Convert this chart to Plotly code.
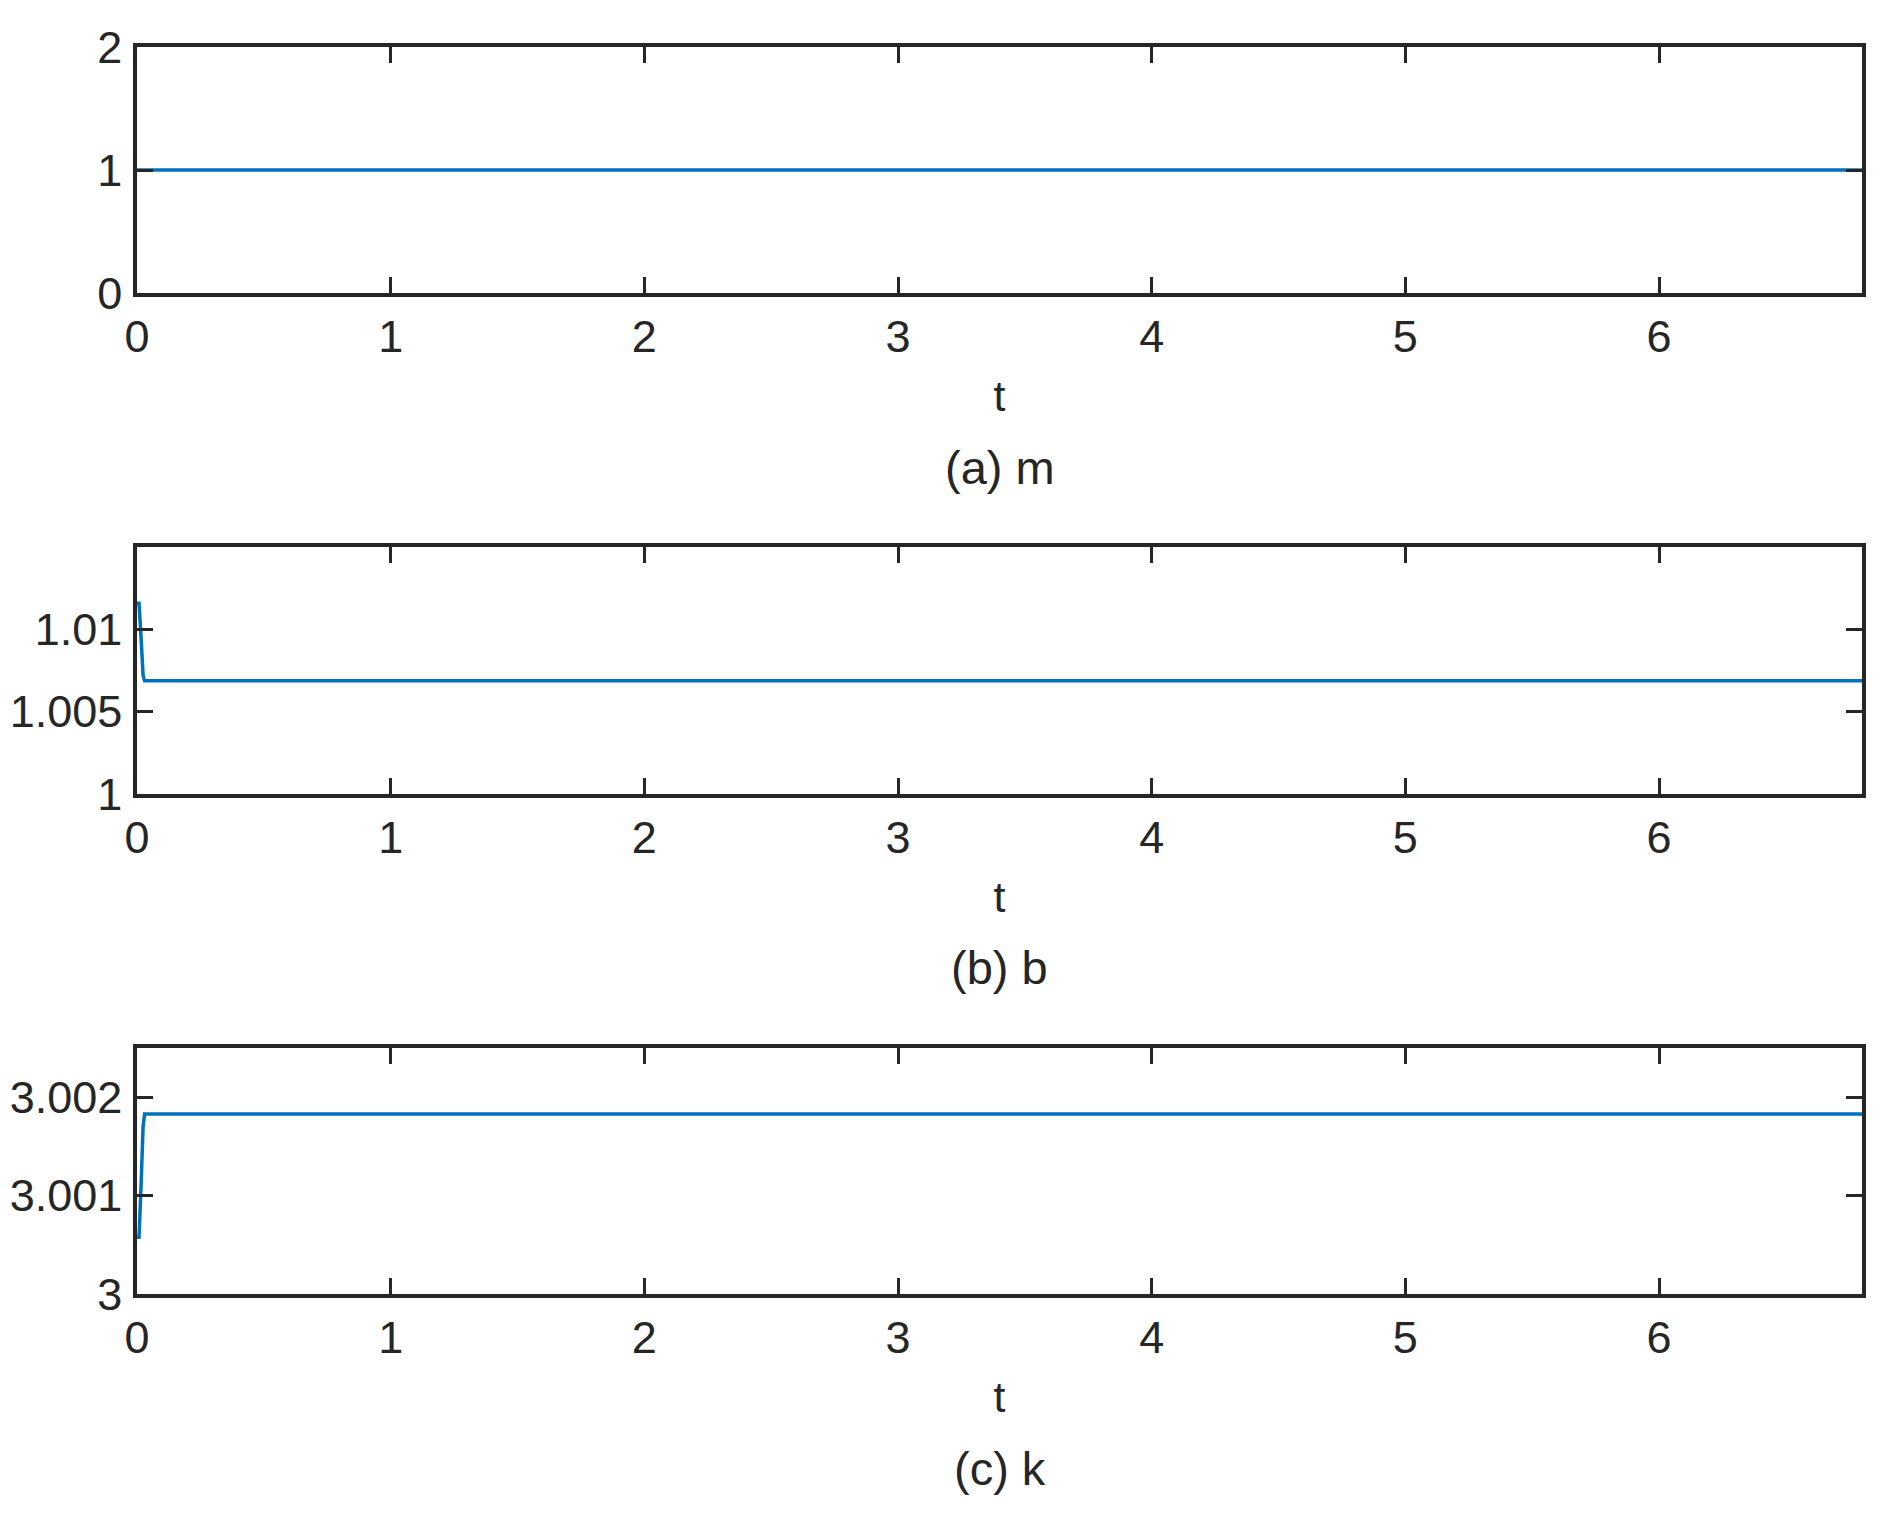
import plotly.graph_objects as go

W, H = 1884, 1513
INK = "#262626"
BLUE = "#0072BD"
FONT = "Liberation Sans, Arial, sans-serif"
PAGE_OFF = 8  # default body margin of the html page

# panel (a) m
t_m = [0.0, 6.8]
m_vals = [1.0, 1.0]

# panel (b) b
t_b = [0.0, 0.008, 0.016, 0.024, 0.03, 6.8]
b_vals = [1.01158, 1.01158, 1.0095, 1.0072, 1.00688, 1.00688]

# panel (c) k
t_k = [0.0, 0.008, 0.016, 0.024, 0.03, 6.8]
k_vals = [3.000576, 3.000576, 3.0011, 3.0017, 3.00183, 3.00183]

x_ticks = [0, 1, 2, 3, 4, 5, 6]
panels = [
    dict(t=t_m, y=m_vals, yr=[0, 2], yt=[0, 1, 2], ytxt=["0", "1", "2"], cap="(a) m"),
    dict(t=t_b, y=b_vals, yr=[1, 1.015], yt=[1, 1.005, 1.01], ytxt=["1", "1.005", "1.01"], cap="(b) b"),
    dict(t=t_k, y=k_vals, yr=[3, 3.0025], yt=[3, 3.001, 3.002], ytxt=["3", "3.001", "3.002"], cap="(c) k"),
]

# panel boxes in screen pixels (top, bottom) and the shared x span
boxes = [(47, 293), (547, 794), (1048, 1294)]
x0, x1 = 137, 1862


def px_x(v):
    return (v - PAGE_OFF) / W


def px_y(v):
    return 1 - (v - PAGE_OFF) / H


fig = go.Figure()
for i, (p, (top, bot)) in enumerate(zip(panels, boxes), start=1):
    xa = "x" if i == 1 else f"x{i}"
    ya = "y" if i == 1 else f"y{i}"
    fig.add_trace(go.Scatter(x=p["t"], y=p["y"], mode="lines",
                             line=dict(color=BLUE, width=3.5), xaxis=xa, yaxis=ya,
                             showlegend=False))
    axis_common = dict(showline=True, linecolor=INK, linewidth=3.5, mirror="ticks",
                       ticks="inside", ticklen=16, tickwidth=3, tickcolor=INK,
                       showgrid=False, zeroline=False, automargin=False,
                       tickfont=dict(family=FONT, size=45, color=INK))
    fig.layout[f"xaxis{'' if i == 1 else i}"] = dict(
        axis_common, domain=[px_x(x0), px_x(x1)], range=[0, 6.8], tickvals=x_ticks,
        ticklabelstandoff=1, anchor=ya,
        title=dict(text="t", font=dict(family=FONT, size=43, color=INK), standoff=21))
    fig.layout[f"yaxis{'' if i == 1 else i}"] = dict(
        axis_common, domain=[px_y(bot), px_y(top)], range=p["yr"],
        tickvals=p["yt"], ticktext=p["ytxt"], ticklabelstandoff=2, anchor=xa)
    fig.add_annotation(text=p["cap"], x=px_x((x0 + x1) / 2), y=px_y(bot + 174),
                       xref="paper", yref="paper", xanchor="center", yanchor="middle",
                       showarrow=False, font=dict(family=FONT, size=47, color=INK))

fig.update_layout(width=W, height=H, margin=dict(l=0, r=0, t=0, b=0, pad=0),
                  paper_bgcolor="white", plot_bgcolor="white")
fig.write_html("out.html")
